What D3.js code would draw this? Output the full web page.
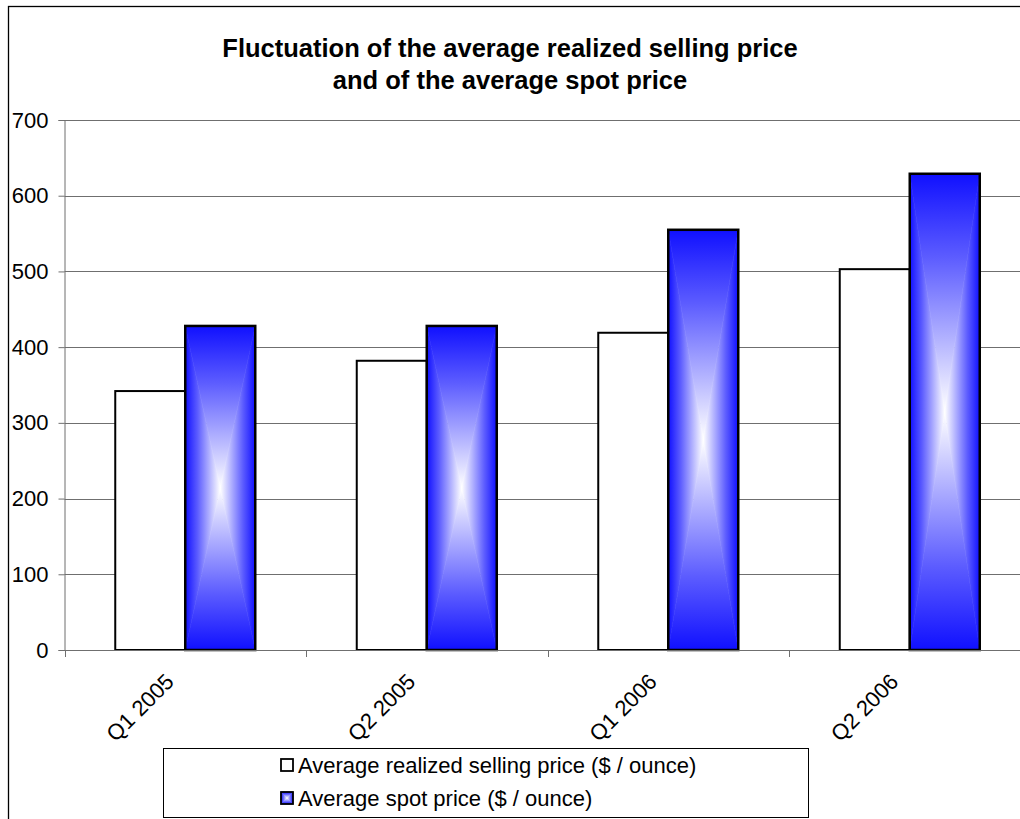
<!DOCTYPE html>
<html>
<head>
<meta charset="utf-8">
<script src="https://cdn.jsdelivr.net/npm/d3@7"></script>
<style>
  html, body { margin: 0; padding: 0; background: #fff; }
  svg { display: block; font-family: Arial, "Liberation Sans", sans-serif; }
</style>
</head>
<body>
<svg id="chart" width="1020" height="819"></svg>
<script>
// Quarterly gold prices, $ per ounce
const categories = ["Q1 2005", "Q2 2005", "Q1 2006", "Q2 2006"];
const realizedPrice = [342, 382, 419, 503];
const spotPrice = [428, 428, 555, 629];
const seriesNames = [
  "Average realized selling price ($ / ounce)",
  "Average spot price ($ / ounce)"
];
const yTicks = [0, 100, 200, 300, 400, 500, 600, 700];
const titleLines = [
  "Fluctuation of the average realized selling price",
  "and of the average spot price"
];

const svg = d3.select("#chart");

// chart frame (right and bottom edges run off the page)
svg.append("rect")
  .attr("x", 8.5).attr("y", 6.5)
  .attr("width", 1100).attr("height", 900)
  .attr("fill", "#fff").attr("stroke", "#000").attr("stroke-width", 1.3);

// rectangular "from centre" fill: four triangles, each with its own linear ramp
const edgeBlue = "#1010ff";
const defs = svg.append("defs");
const ramps = {
  top:    { x1: 0, y1: 0, x2: 0, y2: 1 },
  bottom: { x1: 0, y1: 1, x2: 0, y2: 0 },
  left:   { x1: 0, y1: 0, x2: 1, y2: 0 },
  right:  { x1: 1, y1: 0, x2: 0, y2: 0 }
};
Object.entries(ramps).forEach(([k, r]) => {
  const g = defs.append("linearGradient").attr("id", "ramp-" + k)
    .attr("x1", r.x1).attr("y1", r.y1).attr("x2", r.x2).attr("y2", r.y2);
  g.append("stop").attr("offset", 0).attr("stop-color", edgeBlue);
  g.append("stop").attr("offset", 0.35).attr("stop-color", "#5c5cff");
  g.append("stop").attr("offset", 1).attr("stop-color", "#ffffff");
});

function centreFill(sel, x, y, w, h) {
  const cx = x + w / 2, cy = y + h / 2;
  const tris = {
    top:    [[x, y], [x + w, y], [cx, cy]],
    bottom: [[x, y + h], [x + w, y + h], [cx, cy]],
    left:   [[x, y], [x, y + h], [cx, cy]],
    right:  [[x + w, y], [x + w, y + h], [cx, cy]]
  };
  Object.entries(tris).forEach(([k, pts]) => {
    sel.append("path")
      .attr("d", "M" + pts.map(p => p.join(",")).join("L") + "Z")
      .attr("fill", `url(#ramp-${k})`)
      .attr("stroke", `url(#ramp-${k})`)
      .attr("stroke-width", 0.6);
  });
}

// title
svg.append("g").selectAll("text").data(titleLines).join("text")
  .attr("x", 510).attr("y", (d, i) => 57 + i * 32)
  .attr("text-anchor", "middle")
  .attr("font-size", 25.5).attr("font-weight", "bold")
  .text(d => d);

// plot area
const plot = { left: 64.5, right: 1030.5, top: 120, bottom: 650 };
const x = d3.scaleBand().domain(categories).range([plot.left, plot.right]).paddingInner(0).paddingOuter(0);
const y = d3.scaleLinear().domain([0, 700]).range([plot.bottom, plot.top]);

// gridlines
svg.append("g").selectAll("line").data(yTicks.filter(t => t > 0)).join("line")
  .attr("x1", plot.left).attr("x2", plot.right)
  .attr("y1", d => Math.round(y(d)) + 0.5).attr("y2", d => Math.round(y(d)) + 0.5)
  .attr("stroke", "#6f6f6f").attr("stroke-width", 1);

// y axis
const yAxis = svg.append("g")
  .attr("transform", `translate(${plot.left},0)`)
  .call(d3.axisLeft(y).tickValues(yTicks).tickSize(6).tickPadding(10).tickFormat(d3.format("d")));
yAxis.select(".domain").attr("stroke", "#6f6f6f");
yAxis.selectAll(".tick line").attr("stroke", "#6f6f6f");
yAxis.selectAll(".tick text").attr("font-size", 22).attr("fill", "#000")
  .attr("font-family", "Arial, 'Liberation Sans', sans-serif");

// bars
const barW = x.bandwidth() / 3.45;
const groupOff = (x.bandwidth() - 2 * barW) / 2;
const bars = svg.append("g");
categories.forEach((c, i) => {
  const x0 = x(c) + groupOff;
  const yr = y(realizedPrice[i]);
  bars.append("rect")
    .attr("x", x0).attr("y", yr)
    .attr("width", barW).attr("height", y(0) - yr)
    .attr("fill", "#fff").attr("stroke", "#000").attr("stroke-width", 2);
  const ys = y(spotPrice[i]);
  const g = bars.append("g");
  centreFill(g, x0 + barW, ys, barW, y(0) - ys);
  g.append("rect")
    .attr("x", x0 + barW).attr("y", ys)
    .attr("width", barW).attr("height", y(0) - ys)
    .attr("fill", "none").attr("stroke", "#000").attr("stroke-width", 2.5);
});

// x axis
const xAxis = svg.append("g")
  .attr("transform", `translate(0,${plot.bottom})`);
xAxis.append("line")
  .attr("x1", plot.left).attr("x2", plot.right)
  .attr("y1", 0.5).attr("y2", 0.5).attr("stroke", "#6f6f6f");
xAxis.selectAll("line.tk").data(categories.map(c => x(c))).join("line")
  .attr("class", "tk")
  .attr("x1", d => Math.round(d) + 0.5).attr("x2", d => Math.round(d) + 0.5)
  .attr("y1", 0).attr("y2", 7).attr("stroke", "#6f6f6f");
xAxis.selectAll("text").data(categories).join("text")
  .attr("transform", d => `translate(${x(d) + x.bandwidth() / 2 - 10},${33}) rotate(-45)`)
  .attr("text-anchor", "end")
  .attr("font-size", 22)
  .text(d => d);

// legend
const legend = svg.append("g");
legend.append("rect")
  .attr("x", 163.5).attr("y", 748.5).attr("width", 645).attr("height", 69)
  .attr("fill", "#fff").attr("stroke", "#000").attr("stroke-width", 1);
const lx = 281, ly = [765, 798];
legend.append("rect")
  .attr("x", lx).attr("y", ly[0] - 6).attr("width", 12).attr("height", 12)
  .attr("fill", "#fff").attr("stroke", "#000").attr("stroke-width", 1.8);
const sw = legend.append("g");
centreFill(sw, lx, ly[1] - 6, 12, 12);
sw.append("rect")
  .attr("x", lx).attr("y", ly[1] - 6).attr("width", 12).attr("height", 12)
  .attr("fill", "none").attr("stroke", "#000").attr("stroke-width", 1.8);
legend.selectAll("text").data(seriesNames).join("text")
  .attr("x", lx + 17).attr("y", (d, i) => ly[i] + 8)
  .attr("font-size", 22)
  .text(d => d);
</script>
</body>
</html>
